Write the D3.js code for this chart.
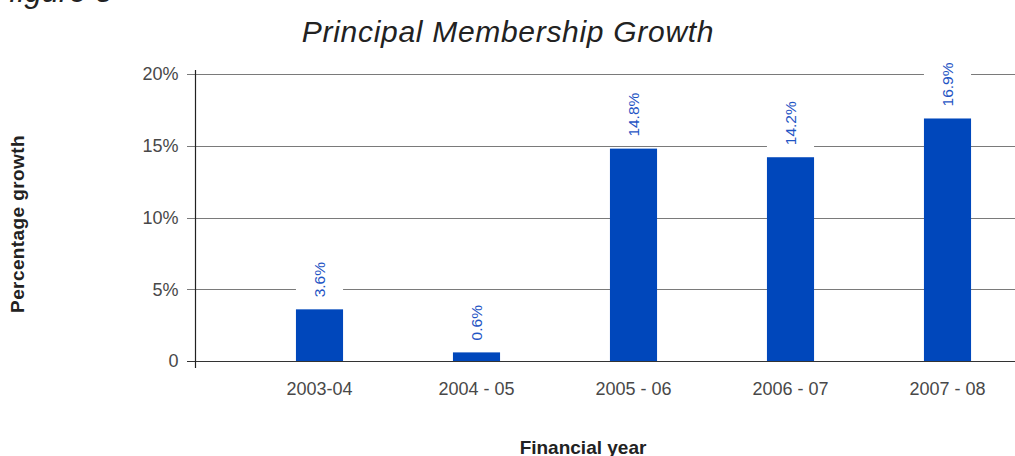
<!DOCTYPE html>
<html>
<head>
<meta charset="utf-8">
<script src="https://cdn.jsdelivr.net/npm/d3@7"></script>
<style>
  html, body { margin: 0; padding: 0; background: #fff; }
  svg { display: block; }
  text { font-family: "Liberation Sans", Arial, sans-serif; }
</style>
</head>
<body>
<svg id="chart" width="1015" height="456"></svg>
<script>
// Financial years and principal membership growth (%)
const categories = ["2003-04", "2004 - 05", "2005 - 06", "2006 - 07", "2007 - 08"];
const growth = [3.6, 0.6, 14.8, 14.2, 16.9];
const valueLabels = ["3.6%", "0.6%", "14.8%", "14.2%", "16.9%"];
const yTicks = [0, 5, 10, 15, 20];
const yTickLabels = ["0", "5%", "10%", "15%", "20%"];

const svg = d3.select("#chart");
const W = 1015;

const y = d3.scaleLinear().domain([0, 20]).range([361, 74]);
const x = d3.scaleBand().domain(categories).range([241, 1026])
  .paddingInner(0.7).paddingOuter(0.35);

// Figure caption, partly above the page edge
svg.append("text")
  .attr("x", 9).attr("y", 2)
  .attr("font-size", 31).attr("font-style", "italic")
  .attr("fill", "#222")
  .text("figure 5");

// Title
svg.append("text")
  .attr("x", 508).attr("y", 42)
  .attr("text-anchor", "middle")
  .attr("font-size", 30).attr("font-style", "italic")
  .attr("letter-spacing", 0.7)
  .attr("fill", "#222")
  .text("Principal Membership Growth");

// Horizontal gridlines
svg.append("g").selectAll("line")
  .data(yTicks.filter(d => d > 0))
  .join("line")
  .attr("x1", 187).attr("x2", W)
  .attr("y1", d => Math.round(y(d)) + 0.5).attr("y2", d => Math.round(y(d)) + 0.5)
  .attr("stroke", "#7a7a7a").attr("stroke-width", 1.2);

// Baseline at zero
svg.append("line")
  .attr("x1", 187).attr("x2", W)
  .attr("y1", Math.round(y(0)) + 0.5).attr("y2", Math.round(y(0)) + 0.5)
  .attr("stroke", "#333").attr("stroke-width", 1.2);

// Y axis with tick labels
const yAxis = d3.axisLeft(y)
  .tickValues(yTicks)
  .tickFormat((d, i) => yTickLabels[i])
  .tickSize(0).tickPadding(17);
const gy = svg.append("g").attr("transform", "translate(195.5,0)").call(yAxis);
gy.select(".domain").remove();
gy.selectAll("text")
  .attr("font-size", 18).attr("fill", "#484848")
  .attr("font-family", "'Liberation Sans', Arial, sans-serif");
svg.append("line")
  .attr("x1", 195.5).attr("x2", 195.5).attr("y1", 70).attr("y2", 368)
  .attr("stroke", "#222").attr("stroke-width", 1.2);

// Label backgrounds break the gridlines behind each value label
const labelGap = 12;
const labelLen = d => d.length * 9;
const bars = categories.map((c, i) => ({ c, v: growth[i], label: valueLabels[i] }));

svg.append("g").selectAll("rect")
  .data(bars)
  .join("rect")
  .attr("x", d => x(d.c))
  .attr("width", x.bandwidth())
  .attr("y", d => y(d.v) - labelGap - labelLen(d.label) - 6)
  .attr("height", d => labelLen(d.label) + 10)
  .attr("fill", "#fff");

// Bars
svg.append("g").selectAll("rect")
  .data(bars)
  .join("rect")
  .attr("x", d => x(d.c))
  .attr("width", x.bandwidth())
  .attr("y", d => y(d.v))
  .attr("height", d => y(0) - y(d.v))
  .attr("fill", "#0047bb");

// Value labels, rotated
svg.append("g").selectAll("text")
  .data(bars)
  .join("text")
  .attr("transform", d => `translate(${x(d.c) + x.bandwidth() / 2 + 5.5},${y(d.v) - labelGap}) rotate(-90)`)
  .attr("font-size", 15.5)
  .attr("fill", "#1f55c4")
  .text(d => d.label);

// X axis category labels
const xAxis = d3.axisBottom(x).tickSize(0).tickPadding(0);
const gx = svg.append("g").attr("transform", "translate(0,382)").call(xAxis);
gx.select(".domain").remove();
gx.selectAll("text")
  .attr("font-size", 18).attr("fill", "#484848")
  .attr("font-family", "'Liberation Sans', Arial, sans-serif");

// Axis titles
svg.append("text")
  .attr("transform", "translate(24,224) rotate(-90)")
  .attr("text-anchor", "middle")
  .attr("font-size", 19).attr("font-weight", "bold")
  .attr("letter-spacing", 0.4)
  .attr("fill", "#222")
  .text("Percentage growth");

svg.append("text")
  .attr("x", 583).attr("y", 454)
  .attr("text-anchor", "middle")
  .attr("font-size", 19).attr("font-weight", "bold")
  .attr("fill", "#222")
  .text("Financial year");
</script>
</body>
</html>
